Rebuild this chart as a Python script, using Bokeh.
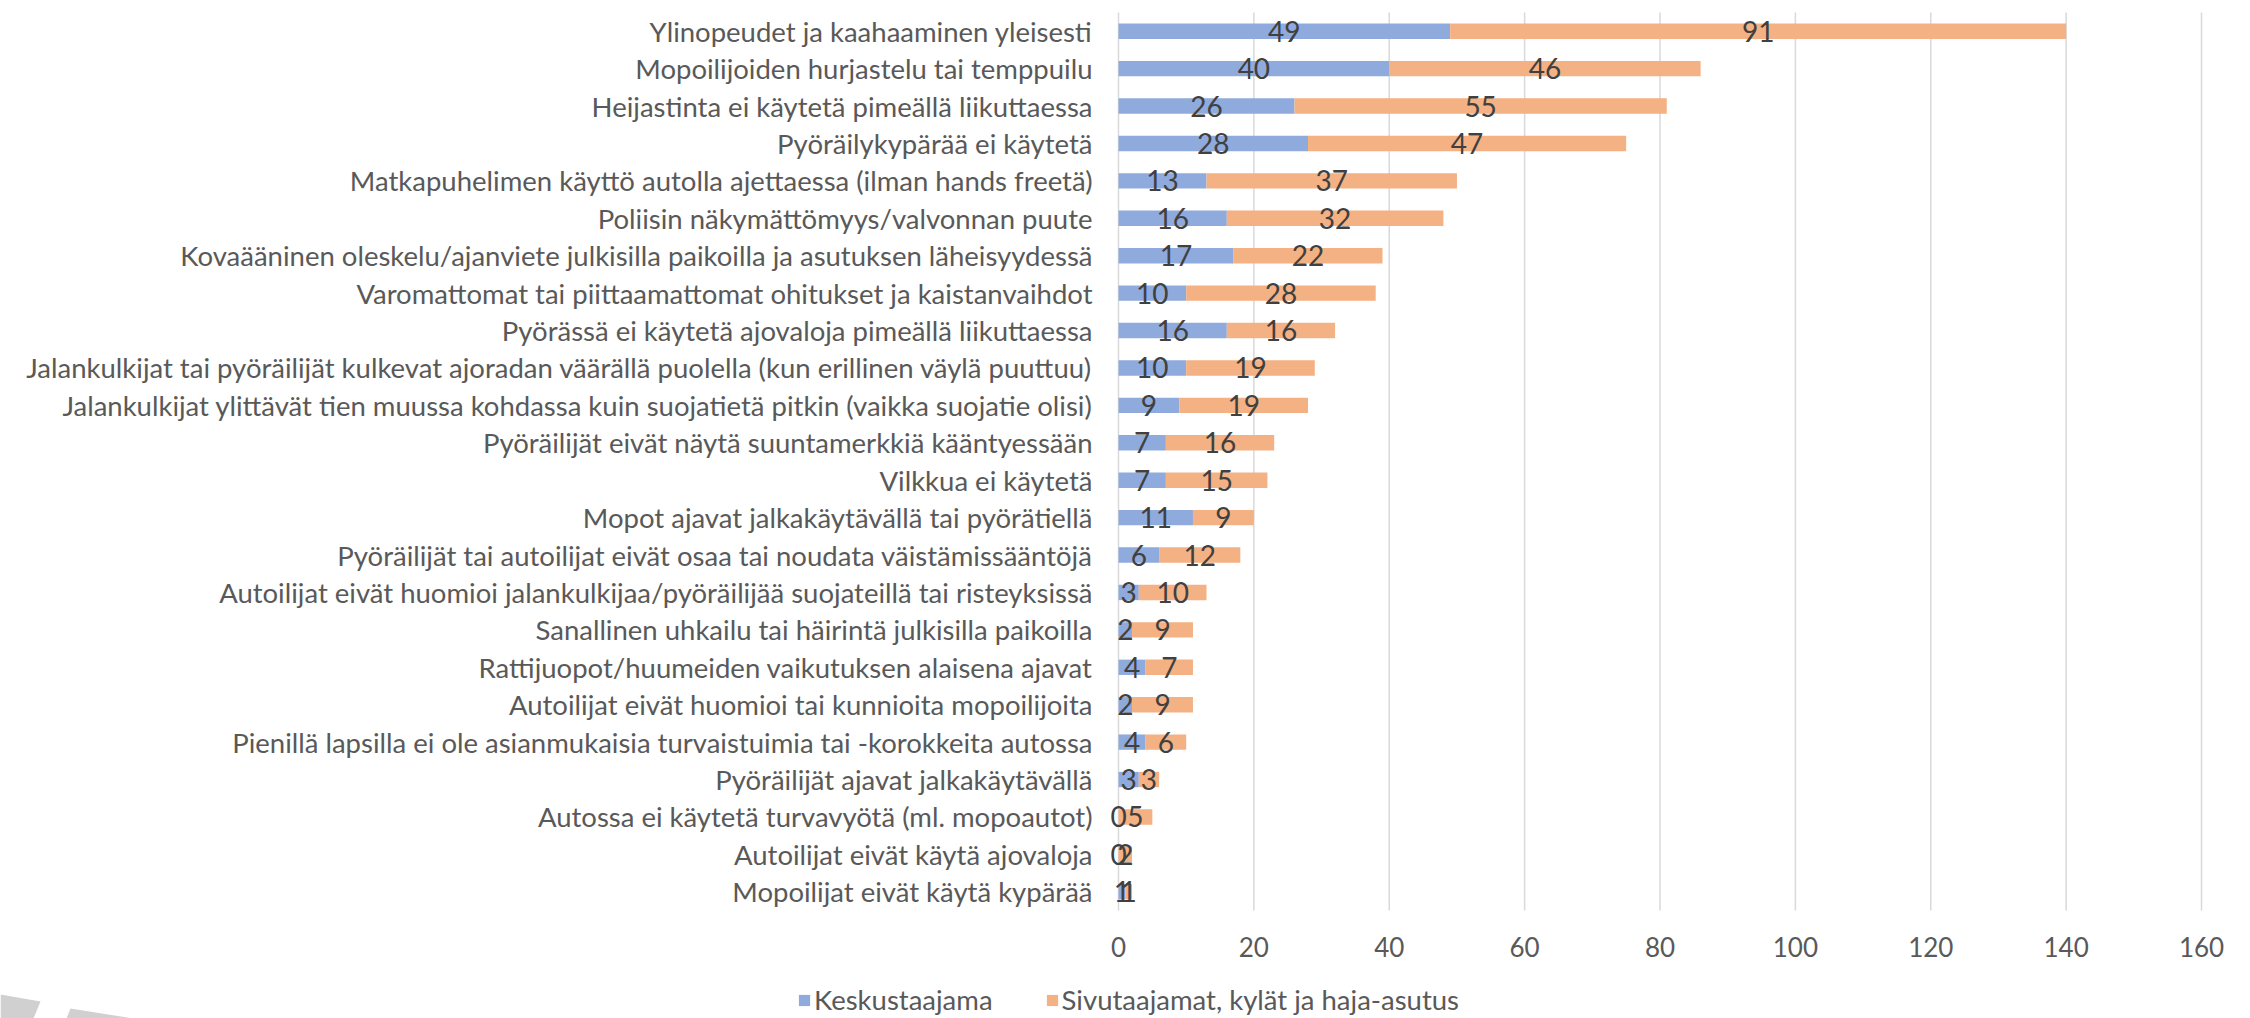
from bokeh.plotting import figure
from bokeh.models import (ColumnDataSource, LabelSet, Legend, LegendItem,
                          Range1d, FixedTicker, LinearAxis)
from bokeh.core.properties import value
from bokeh.embed import file_html
from bokeh.resources import INLINE

categories = [
    "Ylinopeudet ja kaahaaminen yleisesti",
    "Mopoilijoiden hurjastelu tai temppuilu",
    "Heijastinta ei käytetä pimeällä liikuttaessa",
    "Pyöräilykypärää ei käytetä",
    "Matkapuhelimen käyttö autolla ajettaessa (ilman hands freetä)",
    "Poliisin näkymättömyys/valvonnan puute",
    "Kovaääninen oleskelu/ajanviete julkisilla paikoilla ja asutuksen läheisyydessä",
    "Varomattomat tai piittaamattomat ohitukset ja kaistanvaihdot",
    "Pyörässä ei käytetä ajovaloja pimeällä liikuttaessa",
    "Jalankulkijat tai pyöräilijät kulkevat ajoradan väärällä puolella (kun erillinen väylä puuttuu)",
    "Jalankulkijat ylittävät tien muussa kohdassa kuin suojatietä pitkin (vaikka suojatie olisi)",
    "Pyöräilijät eivät näytä suuntamerkkiä kääntyessään",
    "Vilkkua ei käytetä",
    "Mopot ajavat jalkakäytävällä tai pyörätiellä",
    "Pyöräilijät tai autoilijat eivät osaa tai noudata väistämissääntöjä",
    "Autoilijat eivät huomioi jalankulkijaa/pyöräilijää suojateillä tai risteyksissä",
    "Sanallinen uhkailu tai häirintä julkisilla paikoilla",
    "Rattijuopot/huumeiden vaikutuksen alaisena ajavat",
    "Autoilijat eivät huomioi tai kunnioita mopoilijoita",
    "Pienillä lapsilla ei ole asianmukaisia turvaistuimia tai -korokkeita autossa",
    "Pyöräilijät ajavat jalkakäytävällä",
    "Autossa ei käytetä turvavyötä (ml. mopoautot)",
    "Autoilijat eivät käytä ajovaloja",
    "Mopoilijat eivät käytä kypärää",
]
keskustaajama = [49, 40, 26, 28, 13, 16, 17, 10, 16, 10, 9, 7, 7, 11, 6, 3, 2, 4, 2, 4, 3, 0, 0, 1]
sivutaajamat = [91, 46, 55, 47, 37, 32, 22, 28, 16, 19, 19, 16, 15, 9, 12, 10, 9, 7, 9, 6, 3, 5, 2, 1]
series_names = ["Keskustaajama", "Sivutaajamat, kylät ja haja-asutus"]
x_ticks = [0, 20, 40, 60, 80, 100, 120, 140, 160]

FONT = "Lato"
BLUE = "#8FAADC"
ORANGE = "#F4B183"
TEXT_GREY = "#595959"

N = len(categories)
ypos = [N - 1 - i for i in range(N)]          # first category on top
totals = [a + b for a, b in zip(keskustaajama, sivutaajamat)]
source = ColumnDataSource(dict(
    y=ypos,
    k=keskustaajama,
    s=sivutaajamat,
    tot=totals,
    mid1=[a / 2 for a in keskustaajama],
    mid2=[a + b / 2 for a, b in zip(keskustaajama, sivutaajamat)],
    lab1=[str(v) for v in keskustaajama],
    lab2=[str(v) for v in sivutaajamat],
))

# ---- page geometry: the plot frame covers the whole canvas ----
W, H = 2250, 1018
AX_LEFT, AX_RIGHT = 1118, 2201     # page x of value 0 and of value 160
AX_TOP, AX_BOTTOM = 12, 910        # page y of the category band
PXU_X = (AX_RIGHT - AX_LEFT) / (x_ticks[-1] - x_ticks[0])
ROW = (AX_BOTTOM - AX_TOP) / N
X_START = -AX_LEFT / PXU_X
X_END = X_START + W / PXU_X
Y_END = (N - 0.5) + AX_TOP / ROW
Y_START = Y_END - H / ROW


def px_x(px):
    return X_START + px / PXU_X


def px_y(py):
    return Y_END - py / ROW


p = figure(width=W, height=H,
           x_range=Range1d(X_START, X_END), y_range=Range1d(Y_START, Y_END),
           output_backend="svg", toolbar_location=None,
           x_axis_location=None, y_axis_location=None, min_border=0)
p.outline_line_color = None
p.grid.grid_line_color = None

# vertical grid lines limited to the category band
p.segment(x0=x_ticks, x1=x_ticks, y0=[-0.5] * len(x_ticks), y1=[N - 0.5] * len(x_ticks),
          line_color="#D9D9D9", line_width=1.5)

r1 = p.hbar(y="y", left=0, right="k", height=0.41, source=source,
            fill_color=BLUE, line_color=None)
r2 = p.hbar(y="y", left="k", right="tot", height=0.41, source=source,
            fill_color=ORANGE, line_color=None)

for col, lab in (("mid1", "lab1"), ("mid2", "lab2")):
    p.add_layout(LabelSet(x=col, y="y", text=lab, source=source,
                          text_align="center", text_baseline="middle",
                          text_font=value(FONT), text_font_size="28px",
                          text_color="#404040"))

xaxis = LinearAxis(ticker=FixedTicker(ticks=x_ticks), fixed_location=-0.5)
yaxis = LinearAxis(ticker=FixedTicker(ticks=ypos), fixed_location=0,
                   major_label_overrides={y: c for y, c in zip(ypos, categories)})
for ax in (xaxis, yaxis):
    ax.axis_line_color = None
    ax.major_tick_line_color = None
    ax.minor_tick_line_color = None
    ax.major_tick_out = 0
    ax.major_tick_in = 0
    ax.major_label_text_font = FONT
    ax.major_label_text_color = TEXT_GREY
xaxis.major_label_text_font_size = "26px"
xaxis.major_label_standoff = 26
yaxis.major_label_text_font_size = "27.5px"
yaxis.major_label_standoff = 26
p.add_layout(xaxis, "below")
p.add_layout(yaxis, "left")

legend = Legend(items=[LegendItem(label=series_names[0], renderers=[r1]),
                       LegendItem(label=series_names[1], renderers=[r2])],
                orientation="horizontal", location=(797, 2),
                label_text_font=FONT, label_text_font_size="27.5px",
                label_text_color=TEXT_GREY,
                glyph_width=14, glyph_height=14, label_standoff=3,
                spacing=52, padding=0, margin=0,
                background_fill_alpha=0, border_line_color=None)
p.add_layout(legend, "center")

# decorative grey slanted shapes in the lower-left corner (page pixels)
deco_px = [[(0, 994), (40, 1001), (33, 1018), (0, 1018)],
           [(70, 1008), (133, 1018), (66, 1018)]]
p.patches(xs=[[px_x(a) for a, b in poly] for poly in deco_px],
          ys=[[px_y(b) for a, b in poly] for poly in deco_px],
          fill_color="#D0D0D0", line_color=None)

open("out.html", "w").write(file_html(p, INLINE))
